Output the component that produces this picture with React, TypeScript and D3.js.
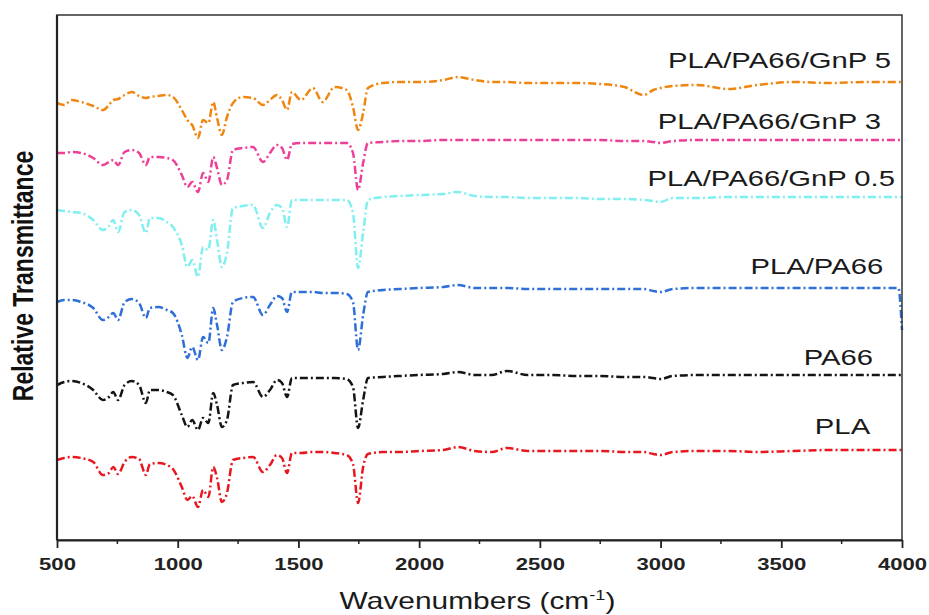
// FTIR spectra of PLA / PA66 / GnP blends, drawn with d3
import * as d3 from "d3";
import { useEffect, useRef } from "react";

// wavenumber grid (cm-1) shared by every spectrum
const wavenumbers = [
  500, 530, 560, 600, 650, 690, 715, 733, 753, 780,
  810, 840, 868, 885, 920, 955, 980, 1017, 1040, 1060,
  1084, 1105, 1127, 1147, 1163, 1183, 1204, 1229, 1270, 1312,
  1353, 1382, 1411, 1432, 1453, 1473, 1510, 1560, 1600, 1650,
  1700, 1726, 1747, 1768, 1788, 1850, 1920, 2000, 2100, 2160,
  2230, 2300, 2364, 2450, 2550, 2650, 2750, 2850, 2930, 2970,
  3000, 3050, 3150, 3280, 3400, 3550, 3700, 3850, 3985, 4000,
];

// relative transmittance (stacked, arbitrary units)
const pla = [
  80, 82, 83, 82, 78, 65, 67, 73, 66, 78,
  83, 81, 65, 76, 77, 75, 71, 53, 40, 44,
  33, 50, 43, 73, 62, 38, 47, 80, 82, 83,
  68, 75, 85, 82, 67, 87, 87, 88, 88, 87,
  85, 76, 37, 73, 86, 88, 88, 89, 90, 93,
  89, 88, 92, 89, 89, 89, 89, 88, 88, 86,
  85, 88, 89, 89, 88, 89, 90, 90, 90, 90,
];
const pa66 = [
  155, 158, 159, 157, 150, 140, 143, 148, 140, 155,
  159, 155, 137, 150, 150, 148, 145, 125, 113, 120,
  110, 122, 117, 147, 135, 113, 120, 155, 157, 158,
  143, 150, 160, 157, 143, 162, 162, 162, 162, 162,
  161, 153, 112, 140, 162, 163, 164, 165, 166, 168,
  165, 165, 169, 165, 165, 164, 164, 163, 163, 162,
  161, 164, 165, 165, 165, 165, 165, 165, 165, 165,
];
const plaPa66 = [
  238, 240, 240, 238, 232, 220, 223, 227, 220, 238,
  241, 237, 222, 232, 233, 230, 227, 205, 182, 193,
  180, 203, 197, 232, 215, 190, 203, 238, 242, 243,
  225, 235, 244, 242, 228, 248, 248, 248, 247, 247,
  246, 238, 190, 225, 248, 250, 251, 252, 253, 255,
  252, 252, 252, 251, 251, 251, 251, 251, 251, 249,
  248, 251, 252, 252, 252, 252, 252, 252, 252, 210,
];
const gnp05 = [
  330, 329, 328, 327, 320, 310, 314, 320, 308, 328,
  330, 325, 307, 322, 322, 318, 313, 295, 273, 280,
  263, 293, 290, 320, 300, 273, 287, 332, 334, 335,
  312, 327, 335, 332, 313, 340, 340, 340, 340, 340,
  340, 327, 272, 307, 340, 343, 344, 345, 346, 348,
  344, 343, 343, 342, 342, 342, 341, 341, 340, 339,
  338, 342, 342, 343, 343, 343, 343, 343, 343, 343,
];
const gnp3 = [
  387, 387, 388, 387, 382, 375, 378, 380, 375, 388,
  390, 387, 375, 383, 383, 382, 380, 365, 353, 358,
  348, 367, 358, 383, 372, 355, 360, 390, 392, 393,
  378, 387, 395, 392, 380, 396, 397, 397, 397, 397,
  397, 387, 350, 377, 397, 398, 399, 399, 400, 400,
  400, 400, 400, 400, 400, 400, 400, 399, 399, 398,
  397, 399, 400, 400, 400, 400, 400, 400, 400, 400,
];
const gnp5 = [
  437, 435, 440, 438, 434, 430, 435, 440, 441, 445,
  448, 444, 442, 443, 444, 445, 443, 430, 420, 415,
  402, 420, 417, 438, 422, 405, 423, 437, 443, 442,
  435, 440, 445, 440, 430, 448, 440, 452, 438, 453,
  450, 433, 410, 427, 452, 457, 458, 458, 460, 463,
  460, 458, 458, 457, 457, 457, 456, 453, 445, 450,
  452, 454, 455, 451, 455, 458, 457, 458, 458, 458,
];

const seriesNames = ["PLA", "PA66", "PLA/PA66", "PLA/PA66/GnP 0.5", "PLA/PA66/GnP 3", "PLA/PA66/GnP 5"];
const seriesValues = [pla, pa66, plaPa66, gnp05, gnp3, gnp5];
const seriesColors = ["#E8171F", "#141414", "#2E6FD8", "#7FEFEF", "#EE3F98", "#F0860F"];

// label anchors (right end in cm-1, baseline in the same units as the data)
const labelX = [3868, 3880, 3922, 3971, 3913, 3955];
const labelY = [106, 175, 266, 354, 411, 472];

const xTicks = [500, 1000, 1500, 2000, 2500, 3000, 3500, 4000];
const xMinorTicks = [750, 1250, 1750, 2250, 2750, 3250, 3750];

export default function App() {
  const svgRef = useRef<SVGSVGElement>(null);

  useEffect(() => {
    document.body.style.margin = "0";
    const W = 929;
    const H = 615;
    const margin = { top: 15, right: 27, bottom: 75, left: 57 };
    const width = W - margin.left - margin.right;
    const height = H - margin.top - margin.bottom;

    const root = d3.select(svgRef.current);
    root.selectAll("*").remove();
    const svg = root.append("g").attr("transform", `translate(${margin.left},${margin.top})`);

    const x = d3.scaleLinear().domain([500, 4000]).range([0, width]);
    const y = d3.scaleLinear().domain([0, 525]).range([height, 0]);

    // spectra
    const line = d3
      .line<number>()
      .x((d, i) => x(wavenumbers[i]))
      .y((d) => y(d))
      .curve(d3.curveMonotoneX);

    seriesValues.forEach((vals, k) => {
      svg
        .append("path")
        .datum(vals)
        .attr("d", line)
        .attr("fill", "none")
        .attr("stroke", seriesColors[k])
        .attr("stroke-width", 2.5)
        .attr("stroke-dasharray", "8,3,2,3")
        .attr("stroke-linejoin", "round");
    });

    // frame
    svg
      .append("rect")
      .attr("width", width)
      .attr("height", height)
      .attr("fill", "none")
      .attr("stroke", "#333")
      .attr("stroke-width", 1.5);
    svg
      .append("line")
      .attr("x1", 0)
      .attr("x2", 0)
      .attr("y1", 0)
      .attr("y2", height)
      .attr("stroke", "#222")
      .attr("stroke-width", 2.2);

    // x axis
    const xAxis = svg
      .append("g")
      .attr("transform", `translate(0,${height})`)
      .call(
        d3
          .axisBottom(x)
          .tickValues(xTicks)
          .tickFormat(d3.format("d"))
          .tickSize(8)
          .tickSizeOuter(0)
          .tickPadding(10)
      );
    xAxis.select(".domain").attr("stroke", "#222").attr("stroke-width", 2.2);
    xAxis.selectAll(".tick line").attr("stroke", "#222").attr("stroke-width", 1.8);
    xAxis
      .selectAll(".tick text")
      .attr("fill", "#222")
      .style("font-family", "Liberation Sans, Arial, sans-serif")
      .style("font-size", "17px")
      .style("font-weight", "bold")
      .attr("transform", "scale(1.3,1)");

    svg
      .append("g")
      .attr("transform", `translate(0,${height})`)
      .selectAll("line")
      .data(xMinorTicks)
      .enter()
      .append("line")
      .attr("x1", (d) => x(d))
      .attr("x2", (d) => x(d))
      .attr("y1", 0)
      .attr("y2", 4)
      .attr("stroke", "#222")
      .attr("stroke-width", 1.5);

    // series labels
    seriesNames.forEach((name, k) => {
      svg
        .append("text")
        .attr("transform", `translate(${x(labelX[k])},${y(labelY[k])}) scale(1.3,1)`)
        .attr("text-anchor", "end")
        .style("font-family", "Liberation Sans, Arial, sans-serif")
        .style("font-size", "22.5px")
        .attr("fill", "#1a1a1a")
        .text(name);
    });

    // x axis title
    const xt = root
      .append("text")
      .attr("transform", `translate(${margin.left + width / 2 - 2},609) scale(1.3,1)`)
      .attr("text-anchor", "middle")
      .style("font-family", "Liberation Sans, Arial, sans-serif")
      .style("font-size", "23px")
      .attr("fill", "#1a1a1a");
    xt.append("tspan").text("Wavenumbers (cm");
    xt.append("tspan").attr("dy", -9).style("font-size", "14px").text("-1");
    xt.append("tspan").attr("dy", 9).text(")");

    // y axis title
    root
      .append("text")
      .attr("transform", "translate(33,276) scale(1.3,1) rotate(-90)")
      .attr("text-anchor", "middle")
      .style("font-family", "Liberation Sans, Arial, sans-serif")
      .style("font-size", "23px")
      .style("font-weight", "bold")
      .attr("fill", "#111")
      .text("Relative Transmittance");
  }, []);

  return <svg ref={svgRef} width={929} height={615} style={{ display: "block", background: "#fff" }} />;
}
